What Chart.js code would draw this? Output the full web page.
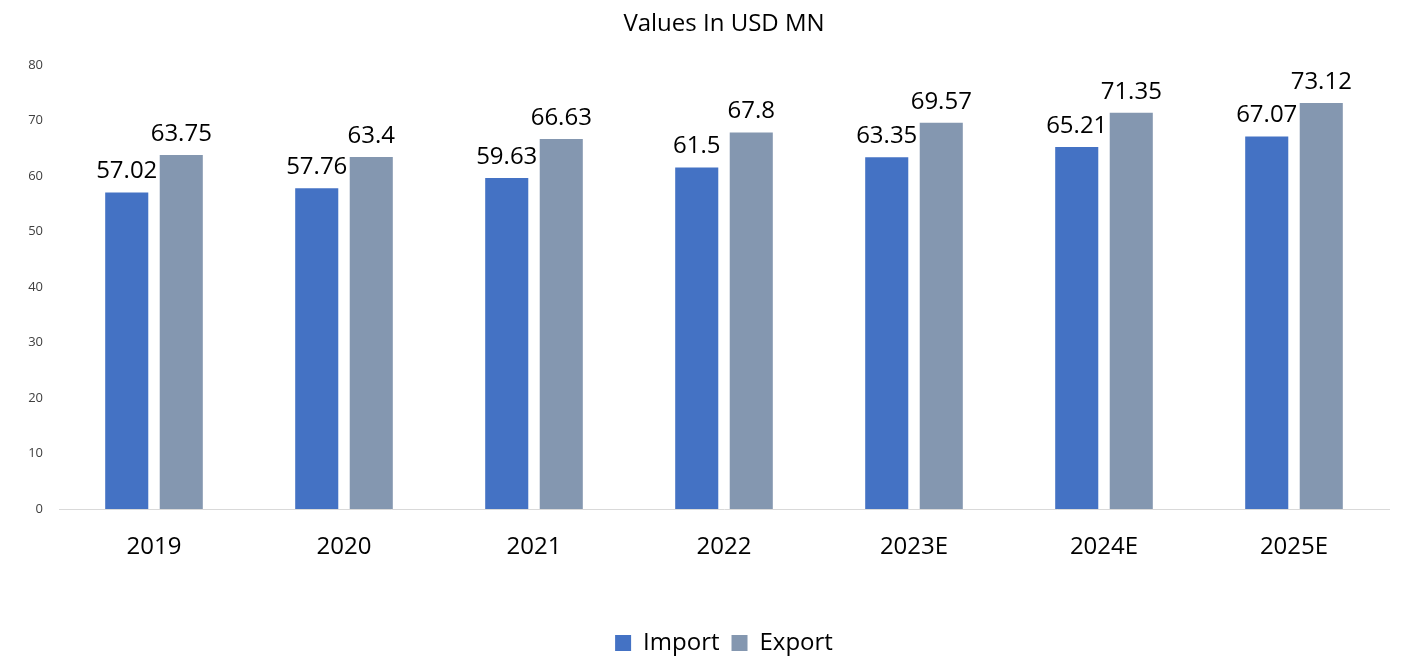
<!DOCTYPE html>
<html>
<head>
<meta charset="utf-8">
<script src="https://cdn.jsdelivr.net/npm/chart.js@4.4.0/dist/chart.umd.min.js"></script>
<style>
  body { margin: 0; background: #fff; }
  #wrap { width: 1404px; height: 657px; }
</style>
</head>
<body>
<div id="wrap"><canvas id="bar_graph" width="1404" height="657"></canvas></div>
<script>
// dati
var years = ["2019", "2020", "2021", "2022", "2023E", "2024E", "2025E"];
var importValues = [57.02, 57.76, 59.63, 61.5, 63.35, 65.21, 67.07];
var exportValues = [63.75, 63.4, 66.63, 67.8, 69.57, 71.35, 73.12];
var yTicks = [0, 10, 20, 30, 40, 50, 60, 70, 80];

var fontName = "'Open Sans', 'Noto Sans', sans-serif";

// plugin per scrivere i valori sopra le barre
var valueLabels = {
  id: "valueLabels",
  afterDatasetsDraw: function(chart) {
    var ctx = chart.ctx;
    ctx.save();
    ctx.font = "24px " + fontName;
    ctx.fillStyle = "#000";
    ctx.textAlign = "center";
    ctx.textBaseline = "bottom";
    chart.data.datasets.forEach(function(ds, i) {
      var meta = chart.getDatasetMeta(i);
      meta.data.forEach(function(bar, j) {
        ctx.fillText(String(ds.data[j]), bar.x, bar.y - 9);
      });
    });
    ctx.restore();
  }
};

var ctxBar = document.getElementById("bar_graph").getContext("2d");

var barGraph = new Chart(ctxBar, {
  type: "bar",
  data: {
    labels: years,
    datasets: [{
      label: "Import",
      data: importValues,
      backgroundColor: "#4472C4",
      categoryPercentage: 0.574,
      barPercentage: 0.79
    }, {
      label: "Export",
      data: exportValues,
      backgroundColor: "#8497B0",
      categoryPercentage: 0.574,
      barPercentage: 0.79
    }]
  },
  options: {
    responsive: false,
    animation: false,
    layout: { padding: { left: 0, right: 15, top: 0, bottom: -8 } },
    plugins: {
      title: {
        display: true,
        fullSize: false,
        text: "Values In USD MN",
        color: "#000",
        font: { family: fontName, size: 24, weight: "normal" },
        padding: { top: 10, bottom: 26 }
      },
      legend: {
        position: "bottom",
        fullSize: false,
        labels: {
          color: "#000",
          font: { family: fontName, size: 24 },
          boxWidth: 16,
          boxHeight: 16,
          padding: 12
        }
      },
      tooltip: { enabled: false }
    },
    scales: {
      x: {
        grid: { display: false, drawTicks: false },
        border: { display: true, color: "#d9d9d9", width: 1 },
        ticks: { color: "#000", font: { family: fontName, size: 24 }, padding: 24 },
        afterFit: function(scale) { scale.height = 110; }
      },
      y: {
        min: 0,
        max: 80,
        afterBuildTicks: function(scale) {
          scale.ticks = yTicks.map(function(v) { return { value: v }; });
        },
        grid: { display: false, drawTicks: false },
        border: { display: false },
        ticks: { color: "#404040", font: { family: fontName, size: 13 }, padding: 16 },
        afterFit: function(scale) { scale.width = 59; }
      }
    }
  },
  plugins: [valueLabels]
});
</script>
</body>
</html>
